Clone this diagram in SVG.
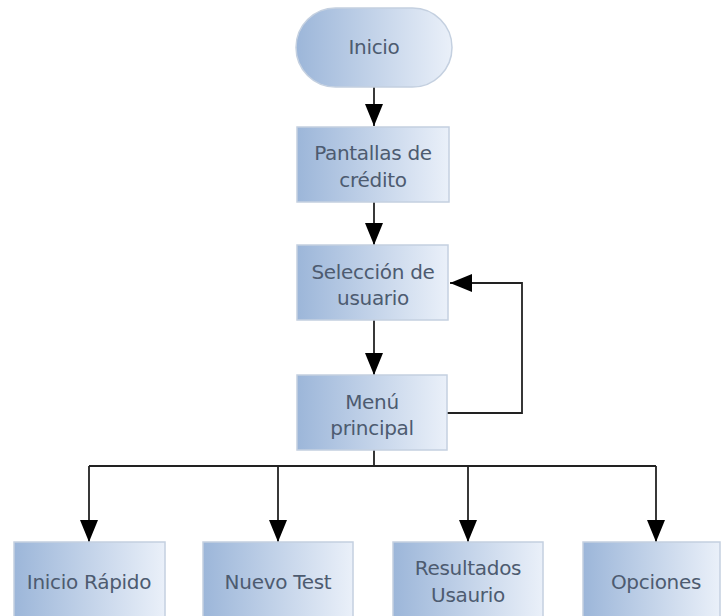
<svg xmlns="http://www.w3.org/2000/svg" width="722" height="616" viewBox="0 0 722 616">
<defs>
<linearGradient id="g" x1="0" y1="0" x2="1" y2="0">
<stop offset="0" stop-color="#9cb6d9"/>
<stop offset="1" stop-color="#eaf0f9"/>
</linearGradient>
<marker id="ah" viewBox="0 0 22 20" refX="22" refY="10" markerWidth="22" markerHeight="20" markerUnits="userSpaceOnUse" orient="auto">
<path d="M0,1 L22,10 L0,19 Z" fill="#000"/>
</marker>
<style>
.n{fill:url(#g);stroke:#c4d0e0;stroke-width:1.5}
.t{font-family:"DejaVu Sans","Open Sans",sans-serif;font-size:20px;fill:#4d5b70;text-anchor:middle;letter-spacing:-0.3px}
.c{fill:none;stroke:#222;stroke-width:1.8;marker-end:url(#ah)}
.l{fill:none;stroke:#222;stroke-width:1.8}
</style>
</defs>
<rect width="722" height="616" fill="#fff"/>
<g id="connectors">
<path class="c" d="M374,87 V126"/>
<path class="c" d="M374,202 V245"/>
<path class="c" d="M374,320 V375"/>
<path class="c" d="M447,413 H522 V283 H450"/>
<path class="l" d="M374,450 V466 H656"/>
<path class="l" d="M89,466 H374"/>
<path class="c" d="M89,466 V542"/>
<path class="c" d="M278,466 V542"/>
<path class="c" d="M468,466 V542"/>
<path class="c" d="M656,466 V542"/>
</g>
<g id="inicio">
<rect class="n" x="296" y="8" width="156" height="79" rx="39.5"/>
<text class="t" x="374" y="54">Inicio</text>
</g>
<g id="pantallas">
<rect class="n" x="297" y="127" width="152" height="75"/>
<text class="t" x="373" y="160">Pantallas de</text>
<text class="t" x="373" y="187">crédito</text>
</g>
<g id="seleccion">
<rect class="n" x="297" y="245" width="151" height="75"/>
<text class="t" x="373" y="279">Selección de</text>
<text class="t" x="373" y="305">usuario</text>
</g>
<g id="menu">
<rect class="n" x="297" y="375" width="150" height="75"/>
<text class="t" x="372" y="409">Menú</text>
<text class="t" x="372" y="435">principal</text>
</g>
<g id="inicio-rapido">
<rect class="n" x="14" y="542" width="151" height="80"/>
<text class="t" x="89" y="589">Inicio Rápido</text>
</g>
<g id="nuevo-test">
<rect class="n" x="203" y="542" width="150" height="80"/>
<text class="t" x="278" y="589">Nuevo Test</text>
</g>
<g id="resultados">
<rect class="n" x="393" y="542" width="150" height="80"/>
<text class="t" x="468" y="575">Resultados</text>
<text class="t" x="468" y="602">Usaurio</text>
</g>
<g id="opciones">
<rect class="n" x="583" y="542" width="137" height="80"/>
<text class="t" x="656" y="589">Opciones</text>
</g>
</svg>
